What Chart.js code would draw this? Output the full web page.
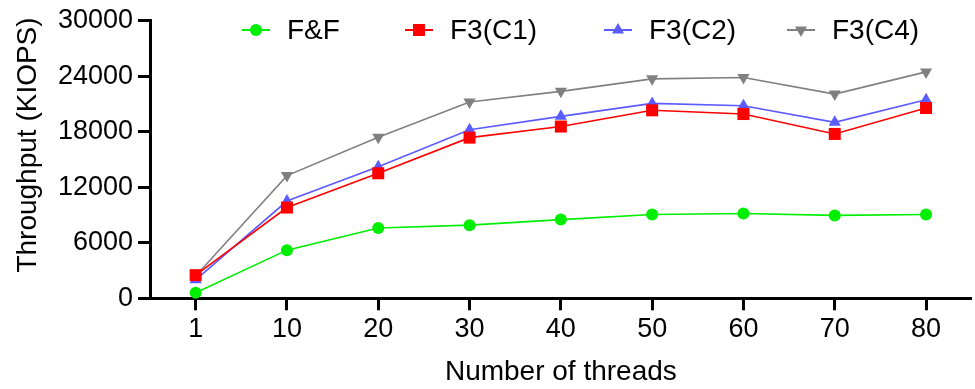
<!DOCTYPE html>
<html>
<head>
<meta charset="utf-8">
<script src="https://cdn.jsdelivr.net/npm/chart.js@4/dist/chart.umd.min.js"></script>
<style>
  html, body { margin: 0; padding: 0; background: #fff; overflow: hidden; }
  canvas { display: block; }
</style>
</head>
<body>
<canvas id="c" width="975" height="389" style="width:975px;height:389px"></canvas>
<script>
// ---- data ----
const threads = ['1', '10', '20', '30', '40', '50', '60', '70', '80'];
const seriesNames = ['F&F', 'F3(C1)', 'F3(C2)', 'F3(C4)'];
const ffValues = [600, 5200, 7600, 7900, 8500, 9050, 9150, 8950, 9050];
const c1Values = [2500, 9800, 13500, 17350, 18550, 20300, 19900, 17750, 20550];
const c2Values = [2000, 10500, 14200, 18200, 19650, 21050, 20800, 19000, 21450];
const c4Values = [2400, 13250, 17400, 21200, 22350, 23700, 23850, 22050, 24450];
const yTicks = [0, 6000, 12000, 18000, 24000, 30000];
const xTitle = 'Number of threads';
const yTitle = 'Throughput (KIOPS)';

const FONT = "'Liberation Sans', Arial, Helvetica, sans-serif";
const styles = [
  { color: '#00ee00', pointStyle: 'circle', radius: 6, rotation: 0 },
  { color: '#ff0000', pointStyle: 'rect', radius: 8.5, rotation: 0 },
  { color: '#5b5bff', pointStyle: 'triangle', radius: 7, rotation: 0 },
  { color: '#808080', pointStyle: 'triangle', radius: 7, rotation: 180 }
];
const allValues = [ffValues, c1Values, c2Values, c4Values];

const datasets = allValues.map((vals, i) => ({
  label: seriesNames[i],
  data: vals,
  borderColor: styles[i].color,
  backgroundColor: styles[i].color,
  borderWidth: 1.6,
  pointStyle: styles[i].pointStyle,
  pointRadius: styles[i].radius,
  pointHoverRadius: styles[i].radius,
  pointRotation: styles[i].rotation,
  pointBorderWidth: 0,
  tension: 0,
  fill: false,
  clip: false
}));

// custom legend: line + marker + text
const legendPlugin = {
  id: 'lineMarkerLegend',
  afterDraw(chart, args, opts) {
    const ctx = chart.ctx;
    ctx.save();
    ctx.font = '28px ' + FONT;
    ctx.textBaseline = 'middle';
    ctx.textAlign = 'left';
    chart.data.datasets.forEach((ds, i) => {
      const x0 = opts.starts[i];
      const y = opts.y;
      ctx.strokeStyle = ds.borderColor;
      ctx.lineWidth = 2;
      ctx.beginPath();
      ctx.moveTo(x0, y);
      ctx.lineTo(x0 + opts.lineLen, y);
      ctx.stroke();
      ctx.fillStyle = ds.backgroundColor;
      Chart.helpers.drawPoint(ctx, {
        pointStyle: ds.pointStyle,
        radius: ds.pointRadius,
        rotation: ds.pointRotation,
        borderWidth: 0
      }, x0 + opts.lineLen / 2, y);
      ctx.fillStyle = '#000';
      ctx.fillText(ds.label, x0 + opts.textGap, y + 1);
    });
    ctx.restore();
  }
};

// y-axis title drawn at measured position
const yTitlePlugin = {
  id: 'yTitleText',
  afterDraw(chart, args, opts) {
    const ctx = chart.ctx;
    ctx.save();
    ctx.font = '28px ' + FONT;
    ctx.fillStyle = '#000';
    ctx.textAlign = 'center';
    ctx.textBaseline = 'middle';
    ctx.translate(opts.x, opts.y);
    ctx.rotate(-Math.PI / 2);
    ctx.fillText(yTitle, 0, 0);
    ctx.restore();
  }
};

new Chart(document.getElementById('c'), {
  type: 'line',
  data: { labels: threads, datasets },
  plugins: [legendPlugin, yTitlePlugin],
  options: {
    responsive: false,
    maintainAspectRatio: false,
    devicePixelRatio: 1,
    animation: false,
    events: [],
    layout: { autoPadding: false, padding: { top: 20.5, right: 3.3, bottom: 0, left: 0 } },
    plugins: {
      legend: { display: false },
      tooltip: { enabled: false },
      lineMarkerLegend: { starts: [242, 405, 604, 787], y: 30, lineLen: 28, textGap: 45 },
      yTitleText: { x: 28, y: 145 }
    },
    scales: {
      x: {
        type: 'category',
        offset: true,
        afterFit(scale) { scale.height = 90.7; scale.paddingLeft = 0; scale.paddingRight = 0; },
        border: { display: true, color: '#000', width: 3 },
        grid: { display: true, drawOnChartArea: false, drawTicks: true, tickLength: 12, tickColor: '#000', tickWidth: 3, offset: false },
        ticks: { color: '#000', font: { family: FONT, size: 27 }, padding: 3, maxRotation: 0, autoSkip: false },
        title: { display: true, text: xTitle, color: '#000', font: { family: FONT, size: 28 }, padding: { top: 0, bottom: 0 } }
      },
      y: {
        min: 0,
        max: 30000,
        afterFit(scale) { scale.width = 150; scale.paddingTop = 0; scale.paddingBottom = 0; },
        afterBuildTicks(scale) { scale.ticks = yTicks.map(v => ({ value: v })); },
        border: { display: true, color: '#000', width: 3 },
        grid: { display: true, drawOnChartArea: false, drawTicks: true, tickLength: 12, tickColor: '#000', tickWidth: 3 },
        ticks: { color: '#000', font: { family: FONT, size: 27 }, padding: 5, callback: v => String(v) }
      }
    }
  }
});
</script>
</body>
</html>
